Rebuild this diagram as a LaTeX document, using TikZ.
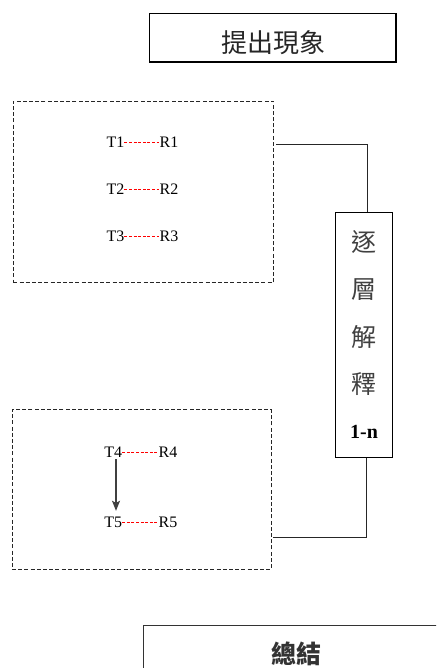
\documentclass[tikz,border=0pt]{standalone}
\usepackage{fontspec}
\setmainfont{Liberation Serif}
\newfontfamily\cjk{Noto Sans CJK TC}
\usetikzlibrary{arrows.meta}
\begin{document}
\begin{tikzpicture}[x=1pt,y=-1pt,
  solidbox/.style={draw=black, line width=1.1pt, inner sep=0pt},
  dashbox/.style={draw=black!85, line width=0.9pt, dash pattern=on 4pt off 2.2pt, inner sep=0pt},
  tr/.style={inner sep=0pt, font=\fontsize{16}{16}\selectfont, text=black},
  redline/.style={draw=red, line width=0.7pt, dash pattern=on 3pt off 1.6pt},
  conn/.style={draw=black!85, line width=0.9pt},
  cjktext/.style={inner sep=0pt, font=\cjk\fontsize{26}{26}\selectfont, text=black!85},
  sidechar/.style={inner sep=0pt, font=\cjk\fontsize{25}{25}\selectfont, text=black!75}]
\useasboundingbox (0,0) rectangle (436,668);
\clip (0,0) rectangle (436,668);

% top box
\node[solidbox, minimum width=246.7pt, minimum height=48.7pt] (top) at (272.6,37.7) {};
\node[cjktext] (toptext) at (273,42.5) {提出現象};

% dashed group 1
\node[dashbox, minimum width=260pt, minimum height=181.7pt] (g1) at (143.3,191.85) {};
\node[tr] (T1) at (115.4,142.3) {T1};
\node[tr] (R1) at (169,142.3) {R1};
\node[tr] (T2) at (115.4,189) {T2};
\node[tr] (R2) at (169,189) {R2};
\node[tr] (T3) at (115.4,236) {T3};
\node[tr] (R3) at (169,236) {R3};
\draw[redline] (T1.east) -- (R1.west);
\draw[redline] (T2.east) -- (R2.west);
\draw[redline] (T3.east) -- (R3.west);

% dashed group 2
\node[dashbox, minimum width=259pt, minimum height=159.6pt] (g2) at (141.5,489.5) {};
\node[tr] (T4) at (113.2,452.3) {T4};
\node[tr] (R4) at (168,452.3) {R4};
\node[tr] (T5) at (113.2,522.3) {T5};
\node[tr] (R5) at (168,522.3) {R5};
\draw[redline] (T4.east) -- (R4.west);
\draw[redline] (T5.east) -- (R5.west);
\coordinate (a1) at ([xshift=2.8pt,yshift=-1.5pt]T4.south);
\coordinate (a2) at ([xshift=2.8pt,yshift=6pt]T5.north);
\draw[draw=black!75, line width=1.1pt, -{Stealth[length=10pt,width=8pt,inset=2pt]}] (a1) -- (a2);

% side box
\node[draw=black, line width=1pt, inner sep=0pt, minimum width=56.6pt, minimum height=245pt] (side) at (364,334.8) {};
\node[sidechar] (c1) at (364,241.7) {逐};
\node[sidechar] (c2) at (364,289.2) {層};
\node[sidechar] (c3) at (364,336.7) {解};
\node[sidechar] (c4) at (364,384.2) {釋};
\node[inner sep=0pt, font=\bfseries\fontsize{20}{20}\selectfont] (c5) at (364,431.7) {1-n};

% connectors
\coordinate (k1) at (367,144);
\draw[conn] ([xshift=2pt]g1.east |- k1) -- (k1) -- (k1 |- side.north);
\coordinate (k2) at (366,537);
\draw[conn] (k2 |- side.south) -- (k2) -- ([xshift=2pt]g2.east |- k2);

% bottom box
\node[solidbox, draw=black!80, minimum width=320pt, minimum height=80pt, anchor=north west] (bottom) at (143.3,625) {};
\node[cjktext, font=\cjk\bfseries\fontsize{25}{25}\selectfont, text=black!80] (bottext) at (296,654) {總結};
\end{tikzpicture}
\end{document}
